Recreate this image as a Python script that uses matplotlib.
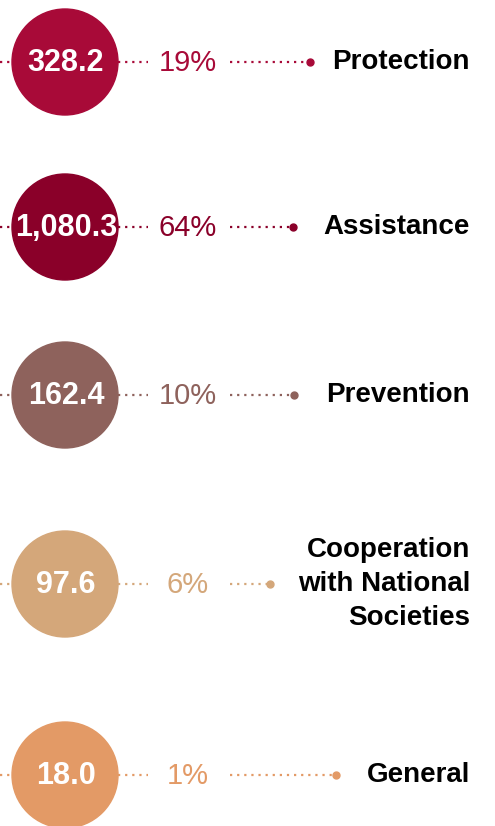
import matplotlib.pyplot as plt
from matplotlib.patches import Circle

# budget breakdown (CHF million) by programme
programmes = ['Protection', 'Assistance', 'Prevention',
              'Cooperation\nwith National\nSocieties', 'General']
amounts = [328.2, 1080.3, 162.4, 97.6, 18.0]
shares = [19, 64, 10, 6, 1]
colours = ['#a80a38', '#8a0029', '#8e625c', '#d4a77a', '#e39a66']

row_y = [62, 227, 395, 584, 775]
dot_x = [310, 293, 294, 270, 336]

CX, R = 65, 53
FONT = ['Liberation Sans', 'DejaVu Sans']

fig = plt.figure(figsize=(4.95, 8.26), dpi=100)
ax = fig.add_axes([0, 0, 1, 1])
ax.set_xlim(0, 495)
ax.set_ylim(826, 0)
ax.set_aspect('equal')
ax.axis('off')

for name, amt, pct, col, y, dx in zip(programmes, amounts, shares,
                                      colours, row_y, dot_x):
    dots = dict(color=col, lw=1.6, linestyle=(0, (1, 2.2)))
    ax.plot([0, CX - R], [y, y], **dots)
    ax.plot([CX + R, 148], [y, y], **dots)
    ax.plot([230, dx], [y, y], **dots)
    ax.plot([dx], [y], 'o', color=col, ms=5)
    ax.add_patch(Circle((CX, y), R, color=col, zorder=3))
    ax.text(CX + 1, y + 1, '{:,.1f}'.format(amt), color='white',
            fontsize=22, fontweight='bold', family=FONT,
            ha='center', va='center', zorder=4)
    ax.text(188, y + 1, '{}%'.format(pct), color=col, fontsize=21,
            family=FONT, ha='center', va='center')
    ax.text(470, y, name, color='black', fontsize=20, fontweight='bold',
            family=FONT, ha='right', va='center', linespacing=1.4,
            multialignment='right')

fig.savefig('out.png', dpi=100)
